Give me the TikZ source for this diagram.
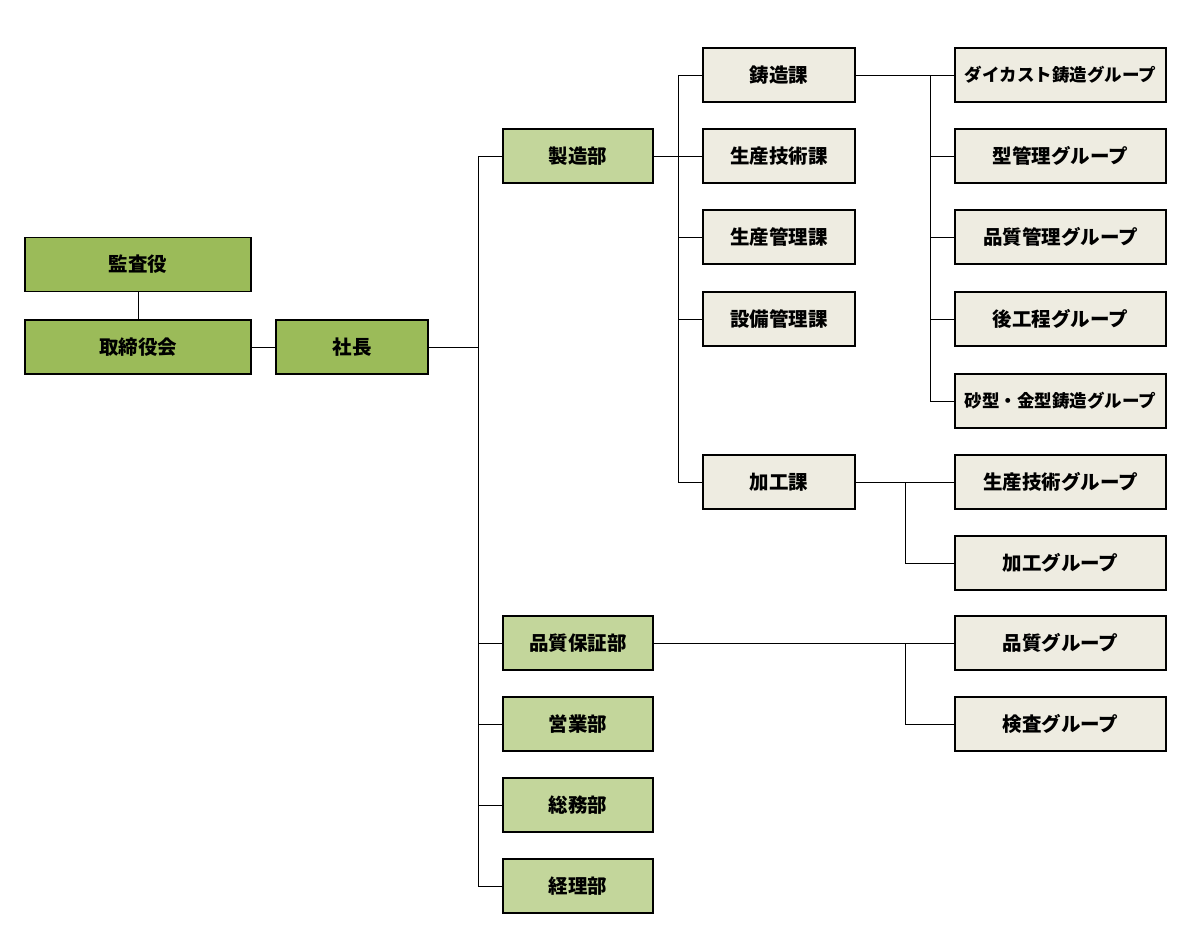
\documentclass[tikz,border=0pt]{standalone}
\usepackage{fontspec}
\setmainfont{Noto Sans CJK JP}
\usetikzlibrary{positioning}
\definecolor{topgreen}{HTML}{9BBB59}
\definecolor{deptgreen}{HTML}{C3D69B}
\definecolor{secbeige}{HTML}{EEECE1}

\begin{document}
\begin{tikzpicture}[x=1pt,y=-1pt,
    box/.style={draw=black,line width=1.1pt,minimum height=54pt,inner sep=0pt,
      font=\fontsize{19.5}{21}\selectfont\bfseries},
    topbox/.style={box,fill=topgreen},
    deptbox/.style={box,fill=deptgreen,minimum width=150pt},
    secbox/.style={box,fill=secbeige,minimum width=152pt},
    grpbox/.style={box,fill=secbeige,minimum width=211pt},
    longgrp/.style={grpbox,font=\fontsize{17.5}{19}\selectfont\bfseries},
    link/.style={line width=0.9pt}]
  \useasboundingbox[fill=white] (0,0) rectangle (1193,942);
  % --- top management ---
  \node[topbox,minimum width=226pt] (kansa) at (138,264.5) {監査役};
  \node[topbox,minimum width=226pt] (torishimari) at (138,347) {取締役会};
  \node[topbox,minimum width=152pt] (shacho) at (352,347) {社長};
  \draw[link] (kansa) -- (torishimari);
  \draw[link] (torishimari) -- (shacho);
  % --- departments ---
  \node[deptbox] (seizo) at (578,156) {製造部};
  \node[deptbox] (hinsho) at (578,643) {品質保証部};
  \node[deptbox] (eigyo) at (578,724) {営業部};
  \node[deptbox] (somu) at (578,805) {総務部};
  \node[deptbox] (keiri) at (578,886) {経理部};
  \coordinate (busA) at (478,347);
  \draw[link] (shacho) -- (busA);
  \draw[link] (busA) |- (seizo.west);
  \foreach \d in {hinsho,eigyo,somu,keiri}
    \draw[link] (busA) |- (\d.west);
  % --- sections under 製造部 ---
  \node[secbox] (chuzo) at (779,75) {鋳造課};
  \node[secbox] (gijutsu) at (779,156) {生産技術課};
  \node[secbox] (kanri) at (779,237) {生産管理課};
  \node[secbox] (setsubi) at (779,319) {設備管理課};
  \node[secbox] (kako) at (779,482) {加工課};
  \coordinate (busB) at (678,156);
  \draw[link] (seizo) -- (gijutsu);
  \foreach \s in {chuzo,kanri,setsubi,kako}
    \draw[link] (busB) |- (\s.west);
  % --- groups ---
  \node[longgrp] (gdie) at (1060.5,75) {ダイカスト鋳造グループ};
  \node[grpbox] (gkata) at (1060.5,156) {型管理グループ};
  \node[grpbox] (ghinkan) at (1060.5,237) {品質管理グループ};
  \node[grpbox] (gatokotei) at (1060.5,319) {後工程グループ};
  \node[longgrp] (gsuna) at (1060.5,401) {砂型・金型鋳造グループ};
  \node[grpbox] (gseisan) at (1060.5,482) {生産技術グループ};
  \node[grpbox] (gkako) at (1060.5,563) {加工グループ};
  \node[grpbox] (ghinshitsu) at (1060.5,643) {品質グループ};
  \node[grpbox] (gkensa) at (1060.5,724) {検査グループ};
  \coordinate (busC) at (930,75);
  \draw[link] (chuzo) -- (gdie);
  \foreach \g in {gkata,ghinkan,gatokotei,gsuna}
    \draw[link] (busC) |- (\g.west);
  \coordinate (busD) at (905,482);
  \draw[link] (kako) -- (gseisan);
  \draw[link] (busD) |- (gkako.west);
  \coordinate (busE) at (905,643);
  \draw[link] (hinsho) -- (ghinshitsu);
  \draw[link] (busE) |- (gkensa.west);
\end{tikzpicture}
\end{document}
